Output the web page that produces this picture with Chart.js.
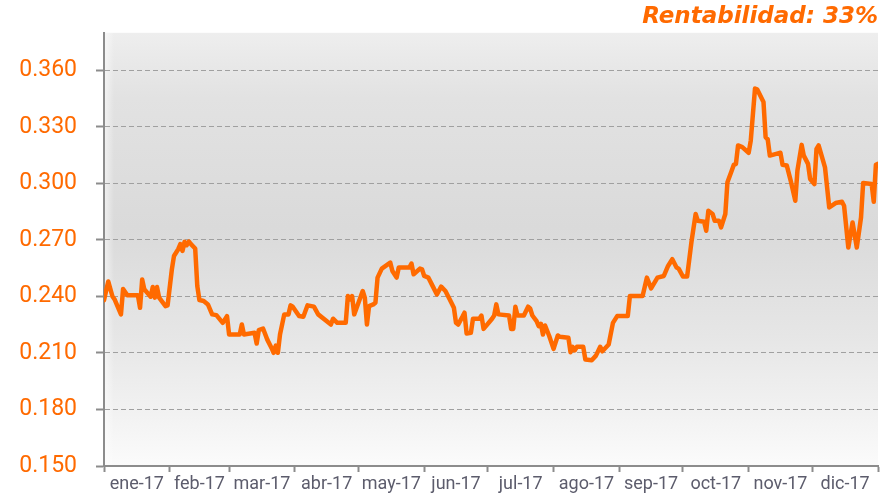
<!DOCTYPE html>
<html>
<head>
<meta charset="utf-8">
<script src="https://cdn.jsdelivr.net/npm/chart.js@4/dist/chart.umd.min.js"></script>
<style>
  html, body { margin: 0; padding: 0; background: #ffffff; }
  #wrap { width: 882px; height: 500px; position: relative; }
</style>
</head>
<body>
<div id="wrap"><canvas id="c" width="882" height="500"></canvas></div>
<script>
// ---- Data ----
const titleText = "Rentabilidad: 33%";
const monthLabels = ["ene-17","feb-17","mar-17","abr-17","may-17","jun-17","jul-17","ago-17","sep-17","oct-17","nov-17","dic-17"];
const monthStarts = [0,31,59,90,120,151,181,212,243,273,304,334,365];
const yTicks = [0.150,0.180,0.210,0.240,0.270,0.300,0.330,0.360];
// day of year (0 = 1 Jan 2017)
const days = [0,2,4,5,8,9,11,16,17,18,19,22,23,24,25,26,29,30,32,33,35,36,37,38,39,40,41,43,44,45,47,49,51,53,56,58,59,64,65,66,71,72,73,75,77,79,80,81,82,83,85,87,88,89,92,94,96,99,101,107,108,110,114,115,116,117,118,120,122,123,124,125,127,128,129,131,135,136,138,139,144,145,146,149,150,151,153,155,157,159,161,163,165,166,167,169,170,171,173,174,177,178,179,183,184,185,186,191,192,193,194,195,198,200,201,202,204,205,206,207,208,210,212,214,215,219,220,221,222,223,226,227,230,232,234,235,238,240,242,247,248,253,254,256,258,261,264,266,268,270,271,273,275,277,279,280,283,284,285,287,288,290,291,293,294,296,297,298,299,301,304,305,307,308,311,312,313,314,317,319,320,322,324,326,327,329,330,332,333,335,336,337,340,342,345,348,349,351,353,355,357,358,362,363,364,365];
const rates = [0.238,0.248,0.240,0.2385,0.2305,0.244,0.2406,0.2406,0.234,0.249,0.2438,0.2399,0.245,0.2394,0.245,0.2394,0.2349,0.2353,0.2544,0.2615,0.2651,0.2678,0.2642,0.269,0.2672,0.2692,0.2678,0.2655,0.2455,0.2381,0.2376,0.2358,0.2305,0.2301,0.226,0.2296,0.2198,0.2198,0.2251,0.2198,0.2207,0.215,0.2221,0.223,0.2171,0.2127,0.2101,0.2139,0.2101,0.2198,0.2305,0.2305,0.2353,0.2346,0.2296,0.2292,0.2353,0.2346,0.2305,0.2251,0.2282,0.226,0.226,0.2402,0.2385,0.2402,0.2305,0.2367,0.2429,0.2394,0.2251,0.2349,0.2358,0.2367,0.25,0.2548,0.258,0.2535,0.25,0.2554,0.2554,0.2575,0.2518,0.2548,0.2544,0.2509,0.25,0.2455,0.2411,0.2452,0.2429,0.2385,0.234,0.226,0.2251,0.2292,0.2314,0.2203,0.2207,0.2282,0.2282,0.2299,0.2228,0.2282,0.2299,0.2358,0.2305,0.2299,0.2228,0.2228,0.2346,0.2299,0.2299,0.2346,0.2335,0.2299,0.2269,0.2242,0.2255,0.2198,0.2246,0.2189,0.2122,0.2193,0.2186,0.2181,0.2104,0.2133,0.2114,0.2133,0.2133,0.2065,0.2061,0.2086,0.2133,0.2109,0.2145,0.226,0.2296,0.2296,0.2402,0.2402,0.2402,0.25,0.2443,0.25,0.2509,0.2562,0.2598,0.2554,0.2548,0.2506,0.2506,0.2687,0.2838,0.2802,0.2797,0.2749,0.2855,0.2838,0.2802,0.2802,0.2767,0.2838,0.3007,0.3068,0.3099,0.3104,0.3202,0.3193,0.3163,0.3228,0.3504,0.35,0.3433,0.3246,0.3234,0.3148,0.3157,0.3163,0.3099,0.3095,0.3007,0.2908,0.3068,0.3205,0.3148,0.3104,0.3024,0.2997,0.3184,0.3202,0.3086,0.2873,0.2896,0.2903,0.2882,0.266,0.2793,0.266,0.282,0.3003,0.2997,0.2903,0.3099,0.3104];

const points = days.map((d, i) => ({ x: d, y: rates[i] }));
const monthMids = monthLabels.map((_, i) => (monthStarts[i] + monthStarts[i + 1]) / 2);

const ORANGE = '#ff6a00';
const AXIS = '#8c8c8c';

const bgPlugin = {
  id: 'plotBg',
  beforeDraw(chart) {
    const { ctx, chartArea: a } = chart;
    ctx.save();
    const g = ctx.createLinearGradient(0, a.top, 0, a.bottom);
    g.addColorStop(0, '#eeeeee');
    g.addColorStop(0.15, '#e2e2e2');
    g.addColorStop(0.45, '#dadada');
    g.addColorStop(0.7, '#e6e6e6');
    g.addColorStop(0.88, '#f2f2f2');
    g.addColorStop(1, '#fbfbfb');
    ctx.fillStyle = g;
    ctx.fillRect(a.left, a.top, a.right - a.left, a.bottom - a.top);
    const h = ctx.createLinearGradient(a.left, 0, a.left + 10, 0);
    h.addColorStop(0, 'rgba(255,255,255,0.6)');
    h.addColorStop(1, 'rgba(255,255,255,0)');
    ctx.fillStyle = h;
    ctx.fillRect(a.left, a.top, 10, a.bottom - a.top);
    ctx.restore();
  }
};

new Chart(document.getElementById('c'), {
  type: 'line',
  data: {
    datasets: [{
      data: points,
      borderColor: ORANGE,
      borderWidth: 4.5,
      pointRadius: 0,
      tension: 0,
      fill: false,
      borderJoinStyle: 'round',
      borderCapStyle: 'round'
    }]
  },
  options: {
    responsive: false,
    animation: false,
    layout: { padding: { left: 0, right: 4, top: 0, bottom: 0 } },
    plugins: {
      legend: { display: false },
      tooltip: { enabled: false },
      title: {
        display: true,
        text: titleText,
        align: 'end',
        color: ORANGE,
        font: { family: 'DejaVu Sans', size: 23, weight: 'bold', style: 'italic' },
        padding: { top: 3, bottom: 2 }
      }
    },
    scales: {
      x: {
        type: 'linear',
        min: 0,
        max: 365,
        afterBuildTicks(scale) {
          const t = monthStarts.map(v => ({ value: v, major: true }));
          monthMids.forEach(v => t.push({ value: v, major: false }));
          t.sort((a, b) => a.value - b.value);
          scale.ticks = t;
        },
        afterFit(scale) { scale.height = 34; },
        grid: {
          drawOnChartArea: false,
          drawTicks: true,
          tickLength: 6,
          tickWidth: 2,
          tickColor: (ctx) => (ctx.tick && ctx.tick.major) ? AXIS : 'rgba(0,0,0,0)'
        },
        border: { display: true, color: AXIS, width: 2 },
        ticks: {
          autoSkip: false,
          maxRotation: 0,
          minRotation: 0,
          padding: 2,
          color: '#5c5c6c',
          font: { family: 'Roboto', size: 18 },
          callback(value) {
            const i = monthMids.indexOf(value);
            return i >= 0 ? monthLabels[i] : '';
          }
        }
      },
      y: {
        min: 0.15,
        max: 0.38,
        afterBuildTicks(scale) {
          scale.ticks = yTicks.map(v => ({ value: v }));
        },
        afterFit(scale) { scale.width = 104; },
        grid: {
          drawOnChartArea: true,
          drawTicks: true,
          tickLength: 8,
          tickWidth: 2,
          tickColor: AXIS,
          color: '#a0a0a0',
          lineWidth: 1
        },
        border: { display: true, color: AXIS, width: 2, dash: [5, 3] },
        ticks: {
          padding: 19,
          color: ORANGE,
          font: { family: 'Roboto', size: 23 },
          callback(value) { return Number(value).toFixed(3); }
        }
      }
    }
  },
  plugins: [bgPlugin]
});
</script>
</body>
</html>
